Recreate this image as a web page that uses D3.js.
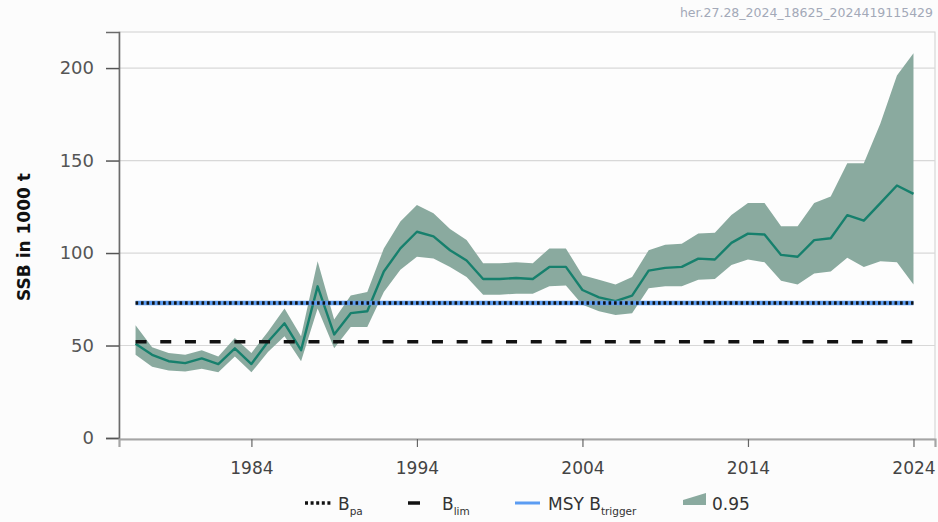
<!DOCTYPE html>
<html>
<head>
<meta charset="utf-8">
<script src="https://cdn.jsdelivr.net/npm/d3@7"></script>
<style>
  body { margin: 0; background: #fcfcfc; }
  svg text { font-family: "DejaVu Sans", sans-serif; }
</style>
</head>
<body>
<svg id="chart" width="938" height="522"></svg>
<script>
// SSB estimates with 95% interval (1000 t)
var years = [1977, 1978, 1979, 1980, 1981, 1982, 1983, 1984, 1985, 1986,
             1987, 1988, 1989, 1990, 1991, 1992, 1993, 1994, 1995, 1996,
             1997, 1998, 1999, 2000, 2001, 2002, 2003, 2004, 2005, 2006,
             2007, 2008, 2009, 2010, 2011, 2012, 2013, 2014, 2015, 2016,
             2017, 2018, 2019, 2020, 2021, 2022, 2023, 2024];
var ssb = [51, 45, 41.5, 40.5, 43, 40, 48.5, 40, 52, 62,
           47.5, 82, 56, 67.5, 68.5, 90, 102.5, 111.5, 109, 101.5,
           96, 86, 86, 86.5, 86, 92.5, 92.5, 80, 76, 74,
           77, 90.5, 92, 92.5, 97, 96.5, 105.5, 110.5, 110, 99,
           98, 107, 108, 120.5, 117.5, 127, 136.5, 132];
var ssbHigh = [61, 49, 46, 45, 47.5, 44, 54, 46, 57.5, 70,
               55, 95.5, 64, 77, 79, 102.5, 117, 126, 121.5, 113,
               107, 94.5, 94.5, 95, 94.5, 102.5, 102.5, 88, 85.5, 83,
               87, 101.5, 104.5, 105, 110.5, 111, 120.5, 127, 127, 114.5,
               114.5, 127, 130.5, 148.5, 148.5, 170, 196, 208];
var ssbLow = [45, 38.5, 36.5, 36, 37.5, 35.5, 44, 35.5, 46.5, 55,
              41.5, 70, 48.5, 60, 60, 79, 91, 98, 97, 92.5,
              87, 77.5, 77.5, 78, 78, 82, 82.5, 72, 68.5, 66.5,
              67.5, 81, 82, 82, 85.5, 86, 93.5, 96.5, 95, 85,
              83, 89, 90, 97.5, 92.5, 95.5, 95, 83];

var Bpa = 73, Blim = 52, MSYBtrigger = 73;
var yTicks = [0, 50, 100, 150, 200];
var xTicks = [1984, 1994, 2004, 2014, 2024];

drawChart();

function drawChart() {
  var svg = d3.select("#chart");
  var pLeft = 119, pRight = 935, pTop = 32, pBottom = 439;

  var x = d3.scaleLinear().domain([1976, 2025.3]).range([pLeft, pRight]);
  var y = d3.scaleLinear().domain([0, 219.5]).range([pBottom - 1, pTop]);

  var rows = years.map(function(yr, i) {
    return { year: yr, v: ssb[i], lo: ssbLow[i], hi: ssbHigh[i] };
  });

  // watermark
  svg.append("text")
     .attr("x", 933).attr("y", 17)
     .attr("text-anchor", "end")
     .attr("font-size", 12.5)
     .attr("fill", "#a3a9b8")
     .text("her.27.28_2024_18625_2024419115429");

  // plot box + grid
  svg.append("rect")
     .attr("x", pLeft).attr("y", pTop)
     .attr("width", pRight - pLeft).attr("height", pBottom - pTop)
     .attr("fill", "#fdfdfd")
     .attr("stroke", "#cfcfcf").attr("stroke-width", 1);

  svg.append("g")
     .selectAll("line")
     .data(yTicks.filter(function(d){ return d > 0; }))
     .enter().append("line")
     .attr("x1", pLeft).attr("x2", pRight)
     .attr("y1", function(d){ return y(d); })
     .attr("y2", function(d){ return y(d); })
     .attr("stroke", "#d8d8d8").attr("stroke-width", 1.2);

  // band
  var area = d3.area()
      .x(function(d){ return x(d.year); })
      .y0(function(d){ return y(d.lo); })
      .y1(function(d){ return y(d.hi); });

  svg.append("path")
     .datum(rows)
     .attr("d", area)
     .attr("fill", "#8aaa9f");

  // ssb line
  var line = d3.line()
      .x(function(d){ return x(d.year); })
      .y(function(d){ return y(d.v); });

  svg.append("path")
     .datum(rows)
     .attr("d", line)
     .attr("fill", "none")
     .attr("stroke", "#17806d")
     .attr("stroke-width", 2.4)
     .attr("stroke-linejoin", "round");

  // reference points
  var x0 = x(years[0]), x1 = x(years[years.length - 1]);

  svg.append("line")
     .attr("x1", x0).attr("x2", x1)
     .attr("y1", y(MSYBtrigger)).attr("y2", y(MSYBtrigger))
     .attr("stroke", "#5b9cf2").attr("stroke-width", 4.5);

  svg.append("line")
     .attr("x1", x0).attr("x2", x1)
     .attr("y1", y(Bpa)).attr("y2", y(Bpa))
     .attr("stroke", "#111").attr("stroke-width", 3.5)
     .attr("stroke-dasharray", "2.6,2.9");

  svg.append("line")
     .attr("x1", x0).attr("x2", x1)
     .attr("y1", y(Blim)).attr("y2", y(Blim))
     .attr("stroke", "#111").attr("stroke-width", 3.5)
     .attr("stroke-dasharray", "11,13.7");

  // axes
  var yAxis = d3.axisLeft(y).tickValues(yTicks).tickSize(13).tickPadding(12);
  var gy = svg.append("g")
     .attr("transform", "translate(" + pLeft + ",0)")
     .call(yAxis);
  gy.select(".domain").attr("stroke", "#6b6b6b").attr("stroke-width", 1.6);
  gy.selectAll(".tick line").attr("stroke", "#555").attr("stroke-width", 1.5);
  gy.selectAll(".tick text")
    .attr("font-size", 18).attr("fill", "#555")
    .attr("font-family", "DejaVu Sans");

  var xAxis = d3.axisBottom(x).tickValues(xTicks).tickFormat(d3.format("d"))
      .tickSize(8).tickPadding(15);
  var gx = svg.append("g")
     .attr("transform", "translate(0," + pBottom + ")")
     .call(xAxis);
  gx.select(".domain").attr("stroke", "#a5a5a5").attr("stroke-width", 2.2);
  gx.selectAll(".tick line").attr("stroke", "#666").attr("stroke-width", 1.2);
  gx.selectAll(".tick text")
    .attr("font-size", 17).attr("fill", "#444")
    .attr("font-family", "DejaVu Sans");

  // y label
  svg.append("text")
     .attr("transform", "translate(30,237) rotate(-90)")
     .attr("text-anchor", "middle")
     .attr("font-size", 17).attr("font-weight", "bold")
     .attr("fill", "#111")
     .text("SSB in 1000 t");

  // legend
  var ly = 503;
  var leg = svg.append("g").attr("font-size", 17).attr("fill", "#333");

  leg.append("line").attr("x1", 305).attr("x2", 332).attr("y1", ly).attr("y2", ly)
     .attr("stroke", "#111").attr("stroke-width", 3.5).attr("stroke-dasharray", "3,2.6");
  leg.append("line").attr("x1", 408).attr("x2", 420).attr("y1", ly).attr("y2", ly)
     .attr("stroke", "#111").attr("stroke-width", 3.5);
  leg.append("line").attr("x1", 515).attr("x2", 540).attr("y1", ly).attr("y2", ly)
     .attr("stroke", "#5b9cf2").attr("stroke-width", 3);
  leg.append("path").attr("d", "M683,500L706,493L706,505L683,505Z")
     .attr("fill", "#8aaa9f");

  function legText(xp, main, sub) {
    var t = leg.append("text").attr("x", xp).attr("y", ly + 7).attr("fill", "#333");
    t.append("tspan").text(main);
    if (sub) {
      t.append("tspan").attr("font-size", 10.5).attr("dy", 5).text(sub);
    }
  }
  legText(338, "B", "pa");
  legText(442, "B", "lim");
  legText(548, "MSY B", "trigger");
  legText(712, "0.95");
}
</script>
</body>
</html>
